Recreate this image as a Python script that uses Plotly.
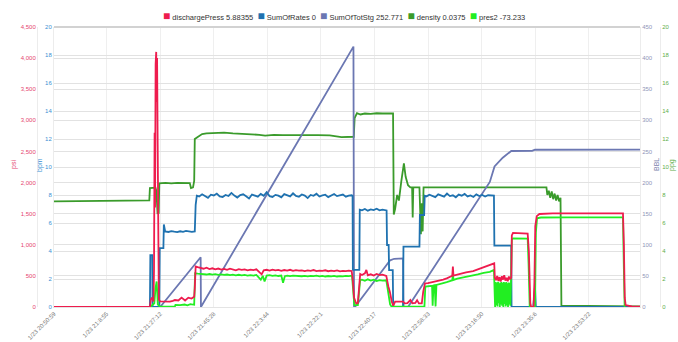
import plotly.graph_objects as go

# ---- x axis: elapsed minutes since 1/23 20:50:59 ----
START_CLOCK = "20:50:59"
TICK_TEXT = ["1/23 20:50:59", "1/23 21:8:55", "1/23 21:27:12", "1/23 21:45:28",
             "1/23 22:3:44", "1/23 22:22:1", "1/23 22:40:17", "1/23 22:58:33",
             "1/23 23:16:50", "1/23 23:35:6", "1/23 23:53:22"]
X_END = 199.8

# ---- series: (elapsed minutes, value) ----
DISCHARGE_PRESS = [
    (0, 0), (32.7, 0), (33.0, 120), (33.5, 150), (33.9, 90), (34.1, 600), (34.3, 2800), (34.45, 1600),
    (34.65, 3900), (34.85, 4100), (35.0, 3300), (35.15, 4000), (35.35, 2600), (35.55, 900), (35.75, 120),
    (36.2, 90), (37.3, 85), (38.5, 90), (39.5, 85), (40.5, 100), (41.2, 112), (42.4, 105), (43.5, 150),
    (44.7, 105), (45.8, 150), (46.9, 135), (47.8, 166), (48.0, 300), (48.3, 650),
    (49, 640), (50, 625), (51, 615), (52, 632), (53, 610), (54, 622), (55, 605), (56, 618), (57, 600),
    (58, 612), (59, 598), (60, 615), (61, 602), (62, 590), (63, 608), (64, 596), (65, 604), (66, 588),
    (67, 600), (68, 592), (69, 606), (70, 560), (70.8, 525), (71.5, 590), (72.5, 598), (73.5, 585),
    (74.5, 600), (75.5, 588), (76.5, 596), (77.5, 582), (78.5, 594), (79.5, 586), (80.5, 598), (81.5, 580),
    (82.5, 592), (83.5, 584), (84.5, 590), (85.5, 578), (86.5, 588), (87.5, 582), (88.5, 594), (89.5, 576),
    (90.5, 586), (91.5, 580), (92.5, 590), (93.5, 575), (94.5, 584), (95.5, 578), (96.5, 588), (97.5, 572),
    (98.5, 582), (99.5, 576), (100.5, 584), (101.5, 578),
    (101.9, 420), (102.3, 150), (103.0, 60), (103.6, 62), (104.1, 300), (104.4, 530), (105, 515), (106, 540),
    (106.5, 595), (107, 510), (108, 525), (109, 505), (110, 530), (111, 512), (112, 520), (113.3, 500),
    (114.0, 330), (114.5, 246), (115.2, 80), (115.7, 20), (116.3, 86), (117.5, 90), (119.0, 86), (119.6, 59),
    (120.5, 62), (121.5, 112), (122.2, 60), (123.2, 65), (123.8, 110), (124.4, 58), (125.4, 60), (125.9, 250),
    (126.5, 381), (127.5, 385), (128.5, 395), (129.5, 400), (130.4, 407), (131.5, 420), (132.7, 440),
    (133.9, 461), (135.0, 485), (135.8, 503), (136.0, 648), (136.2, 505), (137.5, 520), (139, 540),
    (140.5, 555), (142.9, 578), (144.5, 605), (146.5, 640), (148.6, 675), (150.1, 702),
    (150.3, 470), (150.7, 430), (151.1, 500), (151.5, 420), (151.9, 480), (152.3, 410), (152.7, 495),
    (153.1, 440), (153.5, 510), (153.9, 425), (154.3, 470), (154.7, 415), (155.1, 490), (155.5, 445),
    (155.9, 470), (156.1, 1150), (156.5, 1190), (158, 1184), (160, 1186), (161.5, 1180), (161.9, 900),
    (162.4, 60), (162.7, 0), (163.5, 0), (163.8, 400), (164.1, 1300), (164.6, 1460), (165.5, 1495),
    (170, 1505), (180, 1506), (190, 1504), (194.0, 1505), (194.3, 1000), (194.6, 150), (194.9, 30),
    (197, 8), (199.8, 5.88355),
]

SUM_OF_RATES = [
    (0, 0), (32.7, 0), (32.85, 3.7), (33.5, 3.7), (33.6, 0), (35.9, 0), (36.05, 4.2), (37.3, 4.2),
    (37.45, 5.9), (37.9, 5.4), (39, 5.36), (40, 5.42), (41, 5.38), (42, 5.35), (43, 5.41), (44, 5.37),
    (45, 5.43), (46, 5.38), (47, 5.36), (48.0, 5.4), (48.3, 7.3), (48.7, 7.95),
    (49.5, 7.9), (50.5, 8.05), (51.5, 7.92), (52.5, 7.8), (53.5, 8.02), (54.5, 7.97), (55.5, 8.1),
    (56.5, 7.9), (57.5, 7.85), (58.5, 8.0), (59.5, 7.93), (60.5, 8.15), (61.5, 7.96), (62.5, 7.82),
    (63.5, 7.99), (64.5, 8.05), (65.5, 7.91), (66.5, 7.75), (67.5, 8.03), (68.5, 7.97), (69.5, 7.88),
    (70.5, 8.08), (71.5, 7.94), (72.5, 8.2), (73.5, 7.92), (74.5, 7.86), (75.5, 8.01), (76.5, 7.95),
    (77.5, 7.83), (78.5, 8.06), (79.5, 7.98), (80.5, 7.9), (81.5, 8.12), (82.5, 7.93), (83.5, 7.87),
    (84.5, 8.04), (85.5, 7.96), (86.5, 7.78), (87.5, 8.0), (88.5, 7.94), (89.5, 8.09), (90.5, 7.89),
    (91.5, 7.97), (92.5, 8.02), (93.5, 7.85), (94.5, 7.99), (95.5, 8.07), (96.5, 7.92), (97.5, 7.95),
    (98.5, 8.03), (99.5, 7.88), (100.5, 7.96), (101.5, 7.98), (101.8, 7.95),
    (101.9, 2.65), (104.1, 2.65), (104.25, 6.95), (105, 6.9), (106, 7.0), (107, 6.88), (108, 6.97),
    (109, 6.92), (110, 7.02), (111, 6.9), (112, 6.95), (113.4, 6.9), (113.55, 4.43), (114.1, 4.43),
    (114.25, 2.64), (115.5, 2.64), (115.65, 0), (119.0, 0), (119.15, 4.31), (124.6, 4.31), (124.75, 6.57),
    (126.2, 6.57), (126.4, 7.95), (127, 7.9), (128, 8.02), (129, 7.93), (130, 7.85), (131, 8.05),
    (132, 7.96), (133, 7.88), (134, 8.1), (135, 7.92), (136, 7.98), (137, 7.84), (138, 8.03), (139, 7.95),
    (140, 8.08), (141, 7.9), (142, 7.97), (143, 7.86), (144, 8.04), (145, 7.93), (146, 8.0), (147, 7.89),
    (148, 7.98), (149, 7.94), (150.0, 7.95), (150.15, 4.38), (155.9, 4.38), (156.0, 0), (163.4, 0),
    (164.0, 1.45), (164.3, 0), (199.8, 0),
]

SUM_OF_TOT_STG = [
    (0, 0), (36.2, 0), (50.0, 80), (50.1, 0), (102.1, 418.5), (102.3, 0), (102.6, 0), (112.3, 62),
    (113.5, 70), (114.6, 75), (116.0, 77.5), (119.0, 78), (119.2, 0), (120.7, 0), (148.6, 201),
    (150.2, 226), (153.0, 240), (155.9, 250.7), (163.0, 250.8), (164.0, 252.7), (199.8, 252.771),
]

DENSITY = [
    (0, 7.55), (8, 7.56), (16, 7.58), (24, 7.6), (32.5, 7.62), (32.7, 8.5), (34.6, 8.52), (34.9, 8.3),
    (35.3, 6.7), (35.7, 6.72), (35.9, 8.84), (38, 8.86), (40, 8.83), (42, 8.86), (44, 8.84), (46.3, 8.85),
    (46.7, 8.5), (47.4, 8.55), (47.8, 9.0), (48.0, 12.0), (49, 12.15), (50.5, 12.35), (52, 12.4),
    (55, 12.42), (58, 12.45), (61, 12.4), (64, 12.38), (67, 12.33), (70, 12.3), (72, 12.24), (75, 12.3),
    (78, 12.28), (82, 12.3), (86, 12.27), (90, 12.28), (94, 12.26), (98, 12.14), (100, 12.16),
    (102.2, 12.16), (102.5, 13.5), (103.3, 13.85), (104.5, 13.75), (106, 13.82), (108, 13.8),
    (110, 13.84), (112, 13.82), (114, 13.85), (115.6, 13.83), (115.85, 6.6), (116.3, 7.0), (117.0, 8.0),
    (117.6, 7.6), (118.4, 8.95), (119.3, 10.26), (119.9, 9.3), (120.7, 8.7), (121.5, 8.55), (122.1, 8.55),
    (122.3, 6.4), (122.5, 8.55), (124.6, 8.55), (124.8, 7.0), (125.1, 5.2), (125.4, 7.4), (125.7, 5.4),
    (126.0, 8.55), (135, 8.55), (145, 8.55), (155, 8.56), (160, 8.55), (167.9, 8.55), (168.2, 8.0),
    (168.7, 8.3), (169.2, 7.8), (169.7, 8.25), (170.2, 7.7), (170.7, 8.1), (171.2, 7.6), (171.7, 8.0),
    (172.2, 7.55), (172.7, 7.8), (173.0, 0.1), (199.8, 0.0375),
]

PRES2 = [
    (0, 0), (32.7, 0), (33.3, 20), (34.2, 60), (34.6, 300), (35.0, 410), (35.4, 40), (36.2, 5),
    (41.2, 5), (41.4, 32), (43, 30), (44.5, 40), (45.5, 28), (46.5, 45), (47.8, 35), (48.1, 541),
    (49, 535), (50, 528), (51, 532), (52, 522), (53, 530), (54, 520), (55, 527), (56, 518), (57, 525),
    (58, 515), (59, 522), (60, 512), (61, 520), (62, 510), (63, 518), (64, 508), (65, 515), (66, 505),
    (67, 512), (68, 506), (69, 515), (70.5, 440), (71.2, 500), (71.8, 410), (72.5, 505), (73.5, 512),
    (74.5, 500), (75.5, 508), (76.5, 498), (77.5, 505), (78.1, 390), (78.7, 495), (79.5, 503),
    (80.5, 495), (81.5, 505), (82.5, 498), (83.5, 502), (84.5, 494), (85.5, 500), (86.5, 492),
    (87.5, 500), (88.5, 495), (89.5, 503), (90.5, 493), (91.5, 500), (92.5, 490), (93.5, 498),
    (94.5, 492), (95.5, 500), (96.5, 490), (97.5, 497), (98.5, 492), (99.5, 500), (100.5, 495),
    (101.6, 503), (101.9, 300), (102.4, 32), (103.6, 30), (104.1, 250), (104.4, 434), (105, 440),
    (106, 420), (107, 445), (108, 425), (109, 438), (110, 418), (111, 432), (112, 425), (113.3, 430),
    (114.0, 200), (114.6, 40), (115.1, 5), (120, 8), (125, 5), (126.3, 5), (126.6, 327), (127.5, 335),
    (128.4, 345), (128.9, 340), (129.1, 20), (129.4, 345), (129.8, 350), (130.1, 10), (130.4, 355),
    (131.5, 365), (132.7, 385), (133.9, 400), (135.0, 420), (135.8, 430), (136.0, 540), (136.2, 435),
    (137.5, 455), (139, 470), (140.5, 485), (142.9, 500), (144.5, 525), (146.5, 550), (148.6, 565),
    (150.0, 595), (150.2, 380), (150.4, 0), (150.6, 400), (150.8, 30), (151.0, 390), (151.2, 10),
    (151.4, 405), (151.6, 60), (151.8, 380), (152.0, 0), (152.2, 395), (152.4, 40), (152.6, 400),
    (152.8, 20), (153.0, 385), (153.2, 0), (153.4, 400), (153.6, 50), (153.8, 390), (154.0, 10),
    (154.2, 400), (154.4, 30), (154.6, 380), (154.8, 0), (155.0, 395), (155.2, 40), (155.4, 390),
    (155.6, 20), (155.8, 385), (156.1, 1080), (156.5, 1104), (158, 1100), (160, 1104), (161.5, 1100),
    (161.8, 700), (162.2, 0), (164.0, 0), (164.3, 1200), (164.7, 1425), (166, 1438), (175, 1441),
    (185, 1442), (194.0, 1441), (194.3, 600), (194.6, -73.233), (199.8, -73.233),
]

# ---- styling ----
W, H = 678, 342
M_T, M_B = 27, 35
FONT = "Liberation Sans, Arial, sans-serif"
C_PRESS, C_RATES, C_STG, C_DENS, C_PRES2 = "#ee1c4e", "#1f72b0", "#6b77b2", "#3a9b2b", "#22ee22"


def clock_minutes(label):
    h, m, s = (int(p) for p in label.split(" ")[-1].split(":"))
    h0, m0, s0 = (int(p) for p in START_CLOCK.split(":"))
    return ((h * 3600 + m * 60 + s) - (h0 * 3600 + m0 * 60 + s0)) / 60.0


tick_vals = [clock_minutes(t) for t in TICK_TEXT]


def split(series):
    return [p[0] for p in series], [p[1] for p in series]


fig = go.Figure()
# draw order: density (bottom) -> stages -> rates -> pressures (top)
layers = [
    ("density", DENSITY, C_DENS, "y"),
    ("SumOfTotStg", SUM_OF_TOT_STG, C_STG, "y2"),
    ("SumOfRates", SUM_OF_RATES, C_RATES, "y3"),
    ("pres2", PRES2, C_PRES2, "y4"),
    ("dischargePress", DISCHARGE_PRESS, C_PRESS, "y4"),
]
for name, series, color, axis in layers:
    xs, ys = split(series)
    fig.add_trace(go.Scatter(x=xs, y=ys, name=name, mode="lines", yaxis=axis,
                             line=dict(color=color, width=1.8), showlegend=False))

x0 = 54 / W
x1 = 640 / W
tick_font = dict(family=FONT, size=6)

fig.update_layout(
    width=W, height=H,
    margin=dict(l=0, r=0, t=M_T, b=M_B, pad=0),
    paper_bgcolor="white", plot_bgcolor="white",
    showlegend=False,
    xaxis=dict(domain=[x0, x1], range=[0, X_END], tickmode="array", tickvals=tick_vals,
               ticktext=TICK_TEXT, tickangle=-45, tickfont=dict(family=FONT, size=6, color="#777"),
               showgrid=True, gridcolor="#efefef", gridwidth=1, zeroline=False, automargin=False,
               showline=True, linecolor="#e4e4e4", ticks="", anchor="y"),
    # density (ppg), outer right
    yaxis=dict(range=[0, 20], dtick=2, side="right", anchor="free", position=660 / W,
               showgrid=False, zeroline=False, showline=True, linecolor="#ececec", automargin=False,
               tickfont=dict(tick_font, color="#5fae4a"), ticks=""),
    # total stage volume (BBL), inner right
    yaxis2=dict(range=[0, 450], dtick=50, side="right", anchor="x", overlaying="y",
                showgrid=False, zeroline=False, showline=True, linecolor="#ececec", automargin=False,
                tickfont=dict(tick_font, color="#9195b8"), ticks=""),
    # rates (bpm), inner left
    yaxis3=dict(range=[0, 20], dtick=2, side="left", anchor="x", overlaying="y", automargin=False,
                showgrid=True, gridcolor="#e2e2e2", zeroline=False, showline=True, linecolor="#ececec",
                tickfont=dict(tick_font, color="#3b8fd4"), ticks=""),
    # pressures (psi), outer left
    yaxis4=dict(range=[0, 4500], dtick=500, tickformat=",", side="left", anchor="free",
                position=37 / W, overlaying="y", automargin=False, autoshift=False,
                showgrid=True, gridcolor="#e2e2e2", zeroline=False, showline=True, linecolor="#ececec",
                tickfont=dict(tick_font, color="#e5466f"), ticks=""),
)

# plot frame top edge
fig.add_shape(type="line", xref="paper", yref="paper", x0=x0, x1=x1, y0=1, y1=1,
              line=dict(color="#d2d2d2", width=2))

# axis titles
plot_h = H - M_T - M_B
mid_y = 0.5 + (165 - (M_T + plot_h / 2)) / -plot_h
for text, px, color in [("psi", 14, "#e5466f"), ("bpm", 40, "#3b8fd4"),
                        ("BBL", 656, "#7d82ad"), ("ppg", 672, "#5fae4a")]:
    fig.add_annotation(text=text, xref="paper", yref="paper", x=px / W, y=mid_y,
                       showarrow=False, textangle=-90, xanchor="center", yanchor="middle",
                       font=dict(family=FONT, size=7, color=color))

# legend: coloured square, series name and its latest reading
items = []
for name, series, color in [("dischargePress", DISCHARGE_PRESS, C_PRESS),
                            ("SumOfRates", SUM_OF_RATES, C_RATES),
                            ("SumOfTotStg", SUM_OF_TOT_STG, C_STG),
                            ("density", DENSITY, C_DENS),
                            ("pres2", PRES2, C_PRES2)]:
    last = series[-1][1]
    items.append(f'<span style="color:{color};font-size:12px">■</span> {name} {last:g}')
legend_text = "\u00a0\u00a0".join(items)
fig.add_annotation(text=legend_text, xref="paper", yref="paper", x=344 / W,
                   y=1 + (M_T - 16) / plot_h, showarrow=False, xanchor="center", yanchor="middle",
                   font=dict(family=FONT, size=7.5, color="#333"))

fig.write_html("out.html")
